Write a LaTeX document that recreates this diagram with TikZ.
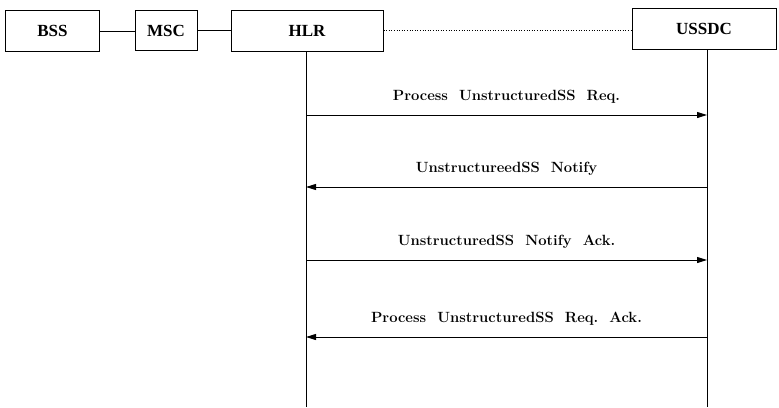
\documentclass[tikz,border=0pt]{standalone}
\usepackage{fontspec}
\newfontfamily\boxfont{Liberation Serif}
\usetikzlibrary{arrows.meta}

\begin{document}
\begin{tikzpicture}[x=1pt,y=-1pt,
  entity/.style={draw,line width=1pt,inner sep=0pt,
    font=\boxfont\bfseries\fontsize{17}{20}\selectfont},
  lifeline/.style={line width=1pt},
  msg/.style={line width=1pt,-{Triangle[length=10pt,width=6pt]}},
  msglabel/.style={font=\bfseries\fontsize{14.8}{17}\selectfont,inner sep=0pt,
    anchor=base}]
  \useasboundingbox (0,0) rectangle (779,407);

  % network entities
  \node[entity,minimum width=94pt,minimum height=41pt] (bss)   at (52.5,31) {BSS};
  \node[entity,minimum width=62pt,minimum height=40pt] (msc)   at (166,30.5) {MSC};
  \node[entity,minimum width=152pt,minimum height=41pt] (hlr)  at (307,30.5) {HLR};
  \node[entity,minimum width=144pt,minimum height=41pt] (ussdc) at (704,28.5) {USSDC};

  % interfaces between entities
  \draw[line width=1pt] (bss.east) -- (bss.east -| msc.west);
  \draw[line width=1pt] (msc.east) -- (msc.east -| hlr.west);
  \draw[line width=0.6pt,dotted] (hlr.east) -- (hlr.east -| ussdc.west);

  % lifelines
  \coordinate (hlrend)   at (306,407);
  \coordinate (ussdcend) at (707,407);
  \draw[lifeline] (hlrend |- hlr.south) -- (hlrend);
  \draw[lifeline] (ussdcend |- ussdc.south) -- (ussdcend);

  % message levels on each lifeline
  \foreach \n/\y in {1/115,2/187,3/260,4/337}{
    \coordinate (h\n) at (306,\y);
    \coordinate (u\n) at (707,\y);
  }

  % messages
  \draw[msg] (h1) -- node[msglabel,above=11pt] {Process\ \ UnstructuredSS\ \ Req.} (u1);
  \draw[msg] (u2) -- node[msglabel,above=11pt] {UnstructureedSS\ \ Notify} (h2);
  \draw[msg] (h3) -- node[msglabel,above=11pt] {UnstructuredSS\ \ Notify\ \ Ack.} (u3);
  \draw[msg] (u4) -- node[msglabel,above=11pt] {Process\ \ UnstructuredSS\ \ Req.\ \ Ack.} (h4);
\end{tikzpicture}
\end{document}
